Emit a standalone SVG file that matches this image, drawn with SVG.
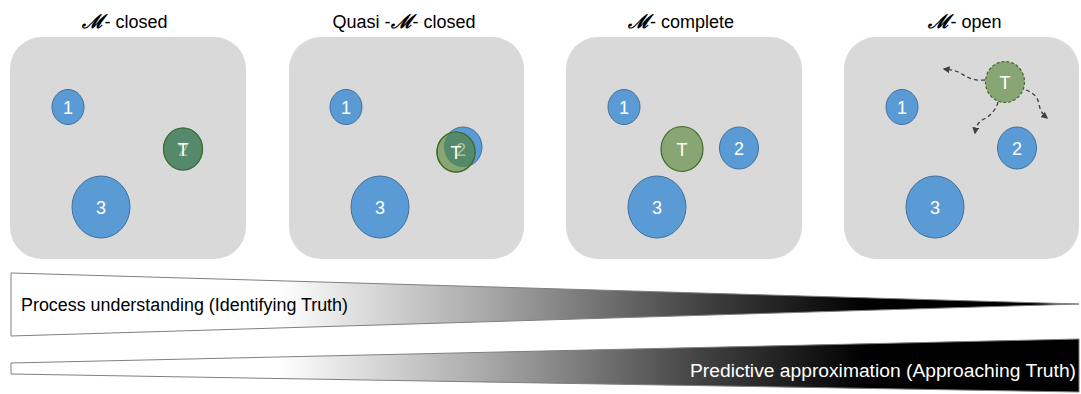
<svg xmlns="http://www.w3.org/2000/svg" width="1081" height="394" viewBox="0 0 1081 394">
  <style>
    .panel { fill: #d9d9d9; }
    .title { font-family: "Liberation Sans", Arial, sans-serif; font-size: 18px; fill: #000; }
    .scr { font-family: "DejaVu Serif", serif; font-style: italic; font-weight: bold; font-size: 19px; }
    .blue { fill: #5b9bd5; stroke: #41719c; stroke-width: 1; }
    .green { fill: #87a673; stroke: #3f6b26; stroke-width: 1.2; }
    .deep { fill: #55896b; stroke: #3f6b26; stroke-width: 1.2; }
    .lbl { font-family: "Liberation Sans", Arial, sans-serif; font-size: 18px; fill: #ffffff; text-anchor: middle; }
    .ghost { font-family: "Liberation Sans", Arial, sans-serif; font-size: 18px; fill: #a9c394; text-anchor: middle; }
    .wedge { stroke: #7f7f7f; stroke-width: 1; fill: url(#fade); }
    .band { font-family: "Liberation Sans", Arial, sans-serif; font-size: 18px; }
    .flow { fill: none; stroke: #404040; stroke-width: 1.3; stroke-dasharray: 4 3; marker-end: url(#tip); }
  </style>
  <defs>
    <linearGradient id="fade" gradientUnits="userSpaceOnUse" x1="11" y1="0" x2="1079" y2="0">
      <stop offset="0" stop-color="#ffffff"/>
      <stop offset="0.25" stop-color="#ffffff"/>
      <stop offset="0.45" stop-color="#a6a6a6"/>
      <stop offset="0.65" stop-color="#404040"/>
      <stop offset="0.8" stop-color="#000000"/>
      <stop offset="1" stop-color="#000000"/>
    </linearGradient>
    <marker id="tip" viewBox="0 0 10 10" refX="8" refY="5" markerWidth="7" markerHeight="7" markerUnits="userSpaceOnUse" orient="auto">
      <path d="M0,0 L10,5 L0,10 z" fill="#404040"/>
    </marker>
    <clipPath id="q2clip">
      <ellipse cx="463" cy="147" rx="19" ry="20"/>
    </clipPath>
  </defs>

  <!-- Panel 1: M-closed -->
  <g id="closed">
    <text class="title" x="125" y="28" text-anchor="middle"><tspan class="scr">ℳ</tspan>- closed</text>
    <rect class="panel" x="10" y="37" width="236" height="222" rx="32" ry="32"/>
    <g id="closed-1"><ellipse class="blue" cx="68" cy="107" rx="16" ry="17.5"/><text class="lbl" x="68" y="113.5">1</text></g>
    <g id="closed-3"><ellipse class="blue" cx="101" cy="207" rx="29" ry="31"/><text class="lbl" x="101" y="213.5">3</text></g>
    <g id="closed-2"><ellipse class="blue" cx="183" cy="149" rx="19.5" ry="21"/></g>
    <g id="closed-T">
      <ellipse class="deep" cx="183" cy="149" rx="19.5" ry="21"/>
      <text class="ghost" x="183" y="156" opacity="0.8">2</text>
      <text class="lbl" x="183" y="155.5">T</text>
    </g>
  </g>

  <!-- Panel 2: Quasi-M-closed -->
  <g id="quasi">
    <text class="title" x="404" y="28" text-anchor="middle">Quasi -<tspan class="scr">ℳ</tspan>- closed</text>
    <rect class="panel" x="289" y="37" width="235" height="222" rx="32" ry="32"/>
    <g id="quasi-1"><ellipse class="blue" cx="346" cy="107" rx="16" ry="17.5"/><text class="lbl" x="346" y="113.5">1</text></g>
    <g id="quasi-3"><ellipse class="blue" cx="380" cy="207" rx="29" ry="31"/><text class="lbl" x="380" y="213.5">3</text></g>
    <g id="quasi-2"><ellipse class="blue" cx="463" cy="147" rx="19" ry="20"/></g>
    <g id="quasi-T">
      <ellipse class="green" cx="456" cy="152" rx="19" ry="20"/>
      <ellipse cx="456" cy="152" rx="19" ry="20" fill="#55896b" clip-path="url(#q2clip)"/>
      <ellipse cx="456" cy="152" rx="19" ry="20" fill="none" stroke="#3f6b26" stroke-width="1.2"/>
      <text class="ghost" x="461" y="156">2</text>
      <text class="lbl" x="456" y="159">T</text>
    </g>
  </g>

  <!-- Panel 3: M-complete -->
  <g id="complete">
    <text class="title" x="681" y="28" text-anchor="middle"><tspan class="scr">ℳ</tspan>- complete</text>
    <rect class="panel" x="566" y="37" width="236" height="222" rx="32" ry="32"/>
    <g id="complete-1"><ellipse class="blue" cx="624" cy="107" rx="16" ry="17.5"/><text class="lbl" x="624" y="113.5">1</text></g>
    <g id="complete-T"><ellipse class="green" cx="682" cy="149" rx="21" ry="22.5"/><text class="lbl" x="682" y="155.5">T</text></g>
    <g id="complete-2"><ellipse class="blue" cx="739" cy="148" rx="19.5" ry="21"/><text class="lbl" x="739" y="154.5">2</text></g>
    <g id="complete-3"><ellipse class="blue" cx="657" cy="207" rx="29" ry="31"/><text class="lbl" x="657" y="213.5">3</text></g>
  </g>

  <!-- Panel 4: M-open -->
  <g id="open">
    <text class="title" x="965" y="28" text-anchor="middle"><tspan class="scr">ℳ</tspan>- open</text>
    <rect class="panel" x="844" y="37" width="235" height="222" rx="32" ry="32"/>
    <g id="open-1"><ellipse class="blue" cx="902" cy="107" rx="16" ry="17.5"/><text class="lbl" x="902" y="113.5">1</text></g>
    <g id="open-2"><ellipse class="blue" cx="1017" cy="148" rx="19.5" ry="21"/><text class="lbl" x="1017" y="154.5">2</text></g>
    <g id="open-3"><ellipse class="blue" cx="935" cy="207" rx="29" ry="31"/><text class="lbl" x="935" y="213.5">3</text></g>
    <g id="open-T"><ellipse class="green" cx="1005" cy="82" rx="19.5" ry="20.5" stroke-dasharray="3 2"/><text class="lbl" x="1005" y="88.5">T</text></g>
  </g>

  <!-- wandering directions of T -->
  <g id="connectors">
    <path class="flow" d="M985,80 C975,81 968,78 962,74 S951,70 944,69"/>
    <path class="flow" d="M998,102 C996,110 990,116 984,119 S976,126 975,133"/>
    <path class="flow" d="M1026,90 C1034,93 1038,98 1039,104 S1042,114 1047,118"/>
  </g>

  <!-- opposing tendency bands -->
  <g id="understanding">
    <polygon class="wedge" points="11,273 1079,304 11,336"/>
    <text class="band" x="21" y="311" fill="#000" textLength="327" lengthAdjust="spacingAndGlyphs">Process understanding (Identifying Truth)</text>
  </g>
  <g id="approximation">
    <polygon class="wedge" points="11,363 1079,339 1079,392 11,374"/>
    <text class="band" x="1076" y="377" fill="#fff" text-anchor="end" textLength="386" lengthAdjust="spacingAndGlyphs">Predictive approximation (Approaching Truth)</text>
  </g>
</svg>
